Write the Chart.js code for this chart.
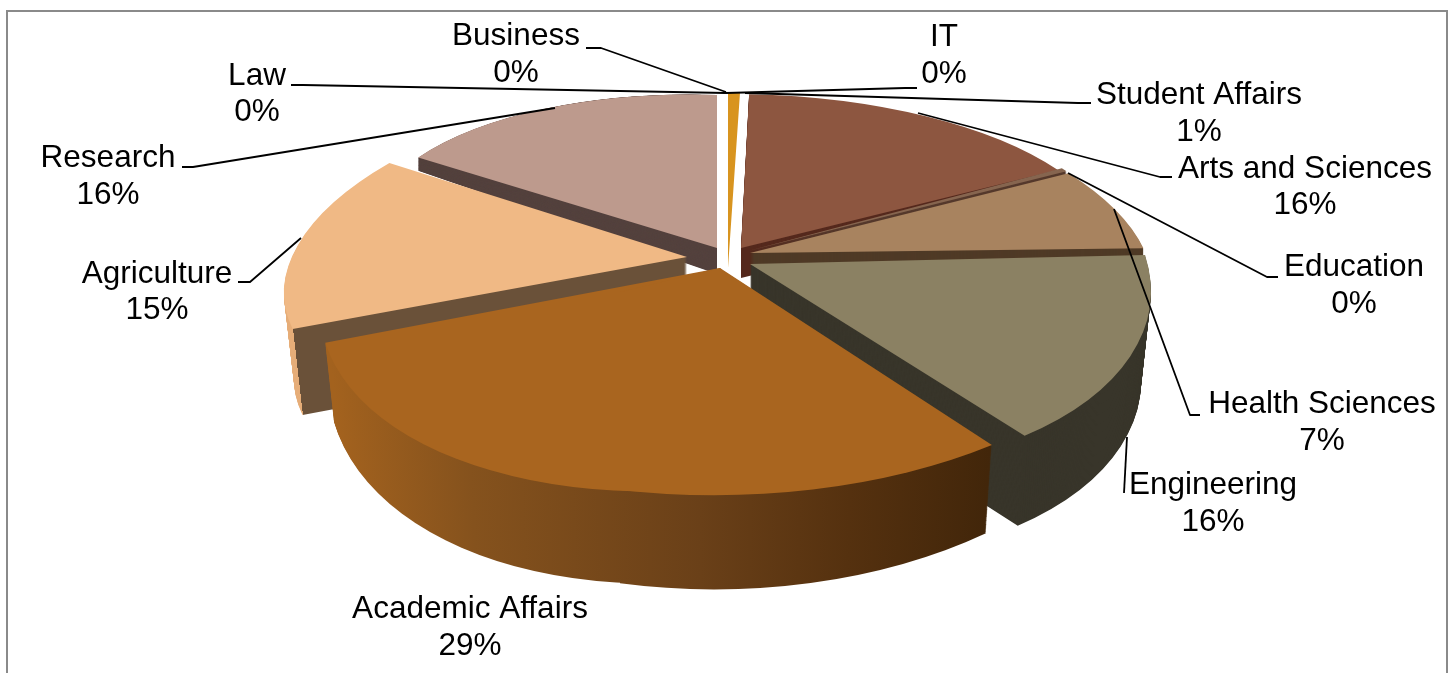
<!DOCTYPE html>
<html><head><meta charset="utf-8">
<style>html,body{margin:0;padding:0;background:#fff}canvas{display:block}</style>
<script src="https://cdn.jsdelivr.net/npm/chart.js@4/dist/chart.umd.min.js"></script>
</head><body><canvas id="c" width="1452" height="673"></canvas>
<script>
// Data, clockwise from the top of the pie
const categories = ["IT","Student Affairs","Arts and Sciences","Education","Health Sciences","Engineering","Academic Affairs","Agriculture","Research","Law","Business"];
const shares = [0,0.9,15.8,0.3,7.2,15.7,28.8,15.1,16.2,0,0];
const topColors = ["#d8941f","#d8941f","#8d5640","#86654f","#a8835f","#8b8163","#a9651f","#f0b985","#bd9a8d","#999","#999"];
const wallColors = ["#d8941f","#b87b1f","#55291d","#55392c","#4f3a26","#38352a","#8a5218","#6a5139","#54423e","#999","#999"];

// Per-slice projection (the tilted, exploded 3D look): ax, ay, a, b, c, d
const projection = [
 [728,268,0,0,0,0],[728,268,212,-5,0,175],[741,248,373,-1.4,13,154],[748,251,397,4,61,173],
 [750,253,397,4,61,173],[750,264,398,1.7,48,212],[720,268,390.7,12.2,-89,223.3],[687,257,396,-2,-75,182],
 [717,248,351,12,0,153],[0,0,0,0,0,0],[0,0,0,0,0,0]];
// Wall of each slice: drop, taper, growth
const walls = [[0,0,0],[0,0,0],[30,0,0],[4,0,0],[12,0,0],[90,.025,0],[72,.022,.09],[86,.025,0],[26,0,.14],[0,0,0],[0,0,0]];
// Academic Affairs sits nearest the viewer: its right part takes a second perspective projection
const nearRight = {6:{m:[720,268,441,-9.7,13,227],wall:[67,.022,.12],fromX:620}};
const drawOrder = [8,2,3,4,1,7,5,6];
const academicWallStops = [[330,"#a3621e"],[470,"#85521d"],[700,"#6a4018"],[850,"#55310f"],[990,"#42260a"]];
const agricultureRimOffset = -394;

// Labels: centre x, first line y, second line y
const labelPlaces = [[944,37,74],[1199,95,132],[1305,169,205],[1354,267,304],[1322,404,441],[1213,485,522],[470,609,646],[157,274,310],[108,158,195],[257,76,112],[516,36,73]];
const leaders = [
 [[917,88],[905,88],[726,93]],[[1091,103],[1078,103],[745,93]],[[1172,177],[1160,177],[918,113]],
 [[1278,277],[1267,277],[1068,173]],[[1200,415],[1190,415],[1114,209]],[[1127,437],[1124,493]],[],
 [[238,282],[250,282],[301,238]],[[182,167],[193,167],[555,108]],[[291,85],[303,85],[726,93]],[[586,48],[601,48],[726,92]]];
const total = shares.reduce((s,v)=>s+v,0);

function ghost(arc, fill){
  const g = Object.create(arc);
  g.options = {backgroundColor:fill,borderColor:fill,borderWidth:0,borderAlign:'center',offset:0,spacing:0,circular:true,borderRadius:0,borderJoinStyle:'round'};
  return g;
}
function wallFill(ctx,i,arc,R,m){
  const [ax,,a,,c] = m;
  const n = Math.hypot(a,c), nx=a/n, ny=c/n;
  const pt = off => [arc.x+nx*off*R/n, arc.y+ny*off*R/n];
  if(categories[i]==="Academic Affairs"){
    const g = ctx.createLinearGradient(...pt(330-ax),...pt(990-ax));
    academicWallStops.forEach(([p,col])=>g.addColorStop((p-330)/660,col));
    return g;
  }
  if(categories[i]==="Agriculture"){
    const g = ctx.createLinearGradient(...pt(-450),...pt(450));
    const s = (agricultureRimOffset+450)/900;
    g.addColorStop(0,"#e6ad78");g.addColorStop(s,"#e6ad78");g.addColorStop(s,wallColors[i]);g.addColorStop(1,wallColors[i]);
    return g;
  }
  return wallColors[i];
}
function clipFrom(ctx,x){ if(x!=null){ctx.beginPath();ctx.rect(x,0,1452-x,673);ctx.clip();} }
const pie3d = {
  id:'pie3d',
  beforeDatasetDraw(chart,args){
    const ctx = chart.ctx, arcs = args.meta.data;
    drawOrder.forEach(i=>{
      const arc = arcs[i], R = arc.outerRadius;
      const shapes = [{m:projection[i],wall:walls[i]}];
      if(nearRight[i]) shapes.push(nearRight[i]);
      shapes.forEach(({m,wall,fromX})=>{
        const [ax,ay,a,b,c,d] = m, [D,tp,kg] = wall;
        const g = ghost(arc,wallFill(ctx,i,arc,R,m));
        const steps = Math.ceil(D+Math.abs(kg)*220);
        ctx.save();
        clipFrom(ctx,fromX);
        for(let s=steps;s>0;s--){
          const t=s/steps, sx=1-tp*t, sy=1+kg*t;
          ctx.save();
          ctx.transform(sx*a/R,sy*b/R,sx*c/R,sy*d/R,ax,ay+D*t);
          ctx.translate(-arc.x,-arc.y);
          g.draw(ctx);
          ctx.restore();
        }
        ctx.restore();
      });
      shapes.forEach(({m,fromX})=>{
        const [ax,ay,a,b,c,d] = m;
        ctx.save();
        clipFrom(ctx,fromX);
        ctx.transform(a/R,b/R,c/R,d/R,ax,ay);
        ctx.translate(-arc.x,-arc.y);
        arc.draw(ctx);
        ctx.restore();
      });
    });
    return false;
  },
  afterDraw(chart){
    const ctx = chart.ctx;
    ctx.save();
    ctx.strokeStyle="#8a8a8a";ctx.lineWidth=2;
    ctx.strokeRect(7,11,1440,670);
    ctx.strokeStyle="#000";ctx.lineWidth=1.8;ctx.lineJoin="round";
    leaders.forEach(pts=>{
      if(!pts.length)return;
      ctx.beginPath();
      pts.forEach((p,k)=>k?ctx.lineTo(p[0],p[1]):ctx.moveTo(p[0],p[1]));
      ctx.stroke();
    });
    ctx.fillStyle="#000";ctx.font='31.5px "Liberation Sans", Arial, sans-serif';
    ctx.textAlign="center";ctx.textBaseline="middle";
    categories.forEach((name,i)=>{
      const [x,y1,y2]=labelPlaces[i];
      ctx.fillText(name,x,y1);
      ctx.fillText(Math.round(shares[i]/total*100)+"%",x,y2);
    });
    ctx.restore();
  }
};
new Chart(document.getElementById('c'),{
  type:'pie',
  data:{labels:categories,datasets:[{data:shares,backgroundColor:topColors,borderWidth:0}]},
  options:{responsive:false,animation:false,events:[],plugins:{legend:{display:false},tooltip:{enabled:false},title:{display:false}}},
  plugins:[pie3d]
});
</script></body></html>
